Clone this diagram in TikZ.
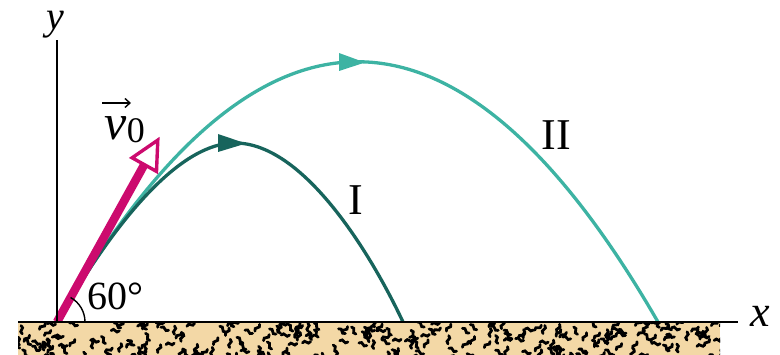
\documentclass[tikz,border=0pt]{standalone}
\usepackage{fontspec}
\setmainfont{Liberation Serif}
\usetikzlibrary{arrows.meta}
\definecolor{mag}{HTML}{CC0A6E}
\definecolor{tdark}{HTML}{17645C}
\definecolor{tlight}{HTML}{3DB3A3}
\definecolor{sand}{HTML}{F3D8A6}
\begin{document}
\begin{tikzpicture}[x=1pt,y=-1pt,
  lbl/.style={font=\fontsize{44}{46}\selectfont, inner sep=0pt},
  traj/.style={line width=3.3pt},
  axisline/.style={line width=1.8pt, black}]
\useasboundingbox (0,0) rectangle (780,355);
% trajectories
\draw[traj, tlight] (57,322) .. controls (257.3,-25) and (457.7,-25) .. (658,322);
\draw[traj, tdark] (57,322) .. controls (89.5,265.7) and (165,143) .. (235,143)
   .. controls (305,143) and (373,258) .. (403,322);
% direction arrowheads
\fill[tlight] (365,62.5) -- (339,53) -- (339,71) -- cycle;
\fill[tdark] (246,143.5) -- (218,134) -- (218,152) -- cycle;
% initial velocity
\draw[mag, line width=8.5pt] (57,322) -- (144.3,164.6);
\draw[mag, line width=3.4pt, fill=white, line join=miter] (157.8,140.1) -- (156.5,171.4) -- (132.1,157.8) -- cycle;
% angle arc
\draw[line width=1.4pt] (85pt,322) arc[start angle=0, end angle=61, radius=28pt];
% ground
\begin{scope}
\clip (18,323) rectangle (720,356);
\fill[sand] (18,323) rectangle (720,356);
\pgfmathsetseed{12}
\foreach \i in {1,...,250}{
  \pgfmathsetmacro{\px}{14+712*rnd}
  \pgfmathsetmacro{\py}{322+36*rnd}
  \pgfmathsetmacro{\a}{360*rnd}
  \draw[line width=2.8pt, line cap=round, rotate around={\a:(\px,\py)}] (\px-4,\py+1) .. controls (\px-1.5,\py-4) and (\px+1.5,\py+4) .. (\px+4,\py-1);
}
\end{scope}
% axes
\draw[axisline] (18,322) -- (738,322);
\draw[axisline] (57,323) -- (57,40);
% labels
\node[lbl, font=\fontsize{40}{40}\selectfont, anchor=base] (ylab) at (55,30) {\textit{y}};
\node[lbl, anchor=base] (xlab) at (760,327) {\textit{x}};
\node[lbl, font=\fontsize{40}{40}\selectfont, anchor=base west] (ang) at (87,310) {60°};
\node[lbl, anchor=base] (lI) at (356,215) {I};
\node[lbl, anchor=base] (lII) at (556.5,150) {II};
\node[lbl, font=\fontsize{50}{50}\selectfont, anchor=base west] (vv) at (104,140) {\textit{v}};
\node[lbl, font=\fontsize{36}{36}\selectfont, anchor=base west] (v0) at (vv.base east) {\raisebox{-3pt}{0}};
\coordinate (va) at (102,103);
\coordinate (vb) at (131,103);
\draw[line width=1.4pt, -{Straight Barb[length=5pt,width=9pt]}] (va) -- (vb);
\end{tikzpicture}
\end{document}
